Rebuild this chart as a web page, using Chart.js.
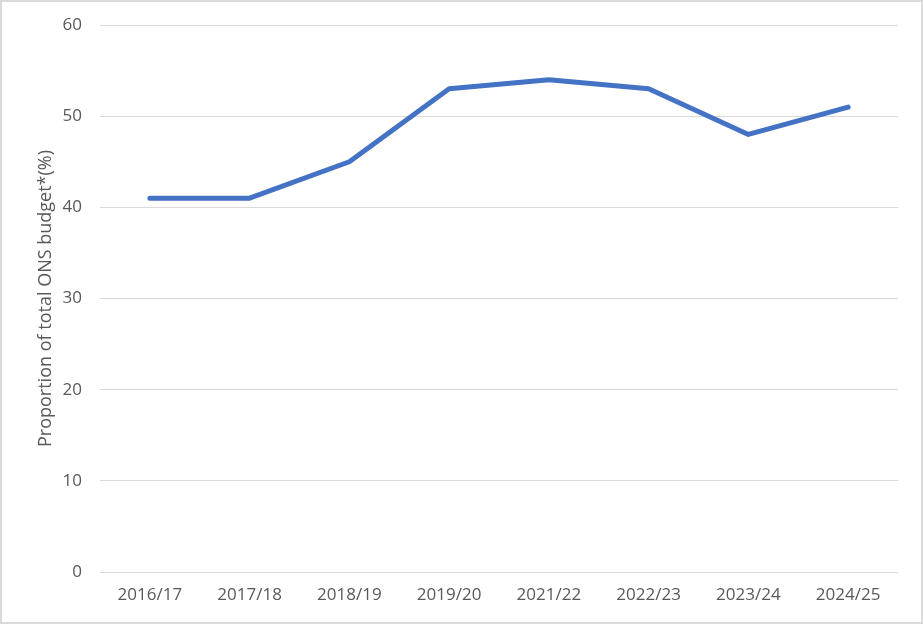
<!DOCTYPE html>
<html>
<head>
<meta charset="utf-8">
<script src="https://cdn.jsdelivr.net/npm/chart.js@4"></script>
<style>
  html, body { margin: 0; padding: 0; background: #fff; }
  #wrap { position: relative; width: 923px; height: 624px; }
  #frame { position: absolute; left: 0; top: 0; width: 919px; height: 620px; border: 2px solid #d9d9d9; pointer-events: none; }
</style>
</head>
<body>
<div id="wrap">
  <canvas id="chart" width="923" height="624"></canvas>
  <div id="frame"></div>
</div>
<script>
years  = ['2016/17','2017/18','2018/19','2019/20','2021/22','2022/23','2023/24','2024/25']
share  = [41, 41, 45, 53, 54, 53, 48, 51]
yTitle = 'Proportion of total ONS budget*(%)'

txt = '#595959'
fnt = "'Open Sans', sans-serif"

ctx = document.getElementById('chart').getContext('2d')
chart = new Chart(ctx, {
    type: 'line',
    data: {
        labels: years,
        datasets: [{
            label: yTitle,
            data: share,
            borderColor: '#4472C4',
            borderWidth: 5,
            borderCapStyle: 'round',
            borderJoinStyle: 'round',
            pointRadius: 0,
            tension: 0,
            fill: false
        }]
    },
    options: {
        responsive: false,
        animation: false,
        layout: { padding: { left: 0, right: 25, top: 25, bottom: 0 } },
        plugins: { legend: { display: false }, tooltip: { enabled: false } },
        scales: {
            x: {
                offset: true,
                grid: { display: false, drawTicks: false },
                border: { display: false },
                ticks: { color: txt, font: { family: fnt, size: 17 }, padding: 13, maxRotation: 0 },
                afterFit: function(s) { s.height = 52; s.paddingTop = 0 }
            },
            y: {
                min: 0, max: 60,
                grid: { color: '#d9d9d9', lineWidth: 1, drawTicks: false },
                border: { display: false },
                ticks: { stepSize: 10, color: txt, font: { family: fnt, size: 17 }, padding: 18 },
                title: { display: true, text: yTitle, color: txt, font: { family: fnt, size: 18 }, padding: { top: 35 } },
                afterFit: function(s) { s.width = 100; s.paddingTop = 0; s.paddingBottom = 0 }
            }
        }
    }
})
</script>
</body>
</html>
